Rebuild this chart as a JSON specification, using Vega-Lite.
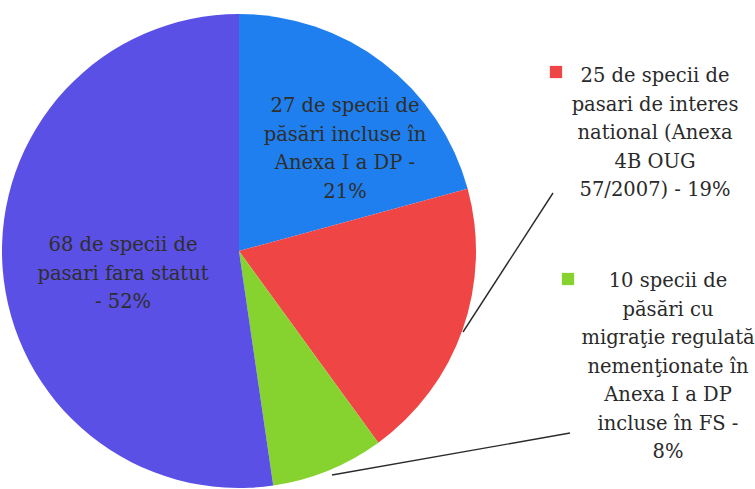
{
  "$schema": "https://vega.github.io/schema/vega-lite/v6.json",
  "width": 755,
  "height": 489,
  "padding": 0,
  "autosize": {"type": "none"},
  "background": "#ffffff",
  "config": {"view": {"stroke": null}},
  "datasets": {
    "slices": [
      {"category": "incluse_DP", "count": 27, "pct": 21, "order": 1, "label": "27 de specii de|păsări incluse în|Anexa I a DP -|21%"},
      {"category": "interes_national", "count": 25, "pct": 19, "order": 2, "label": "25 de specii de|pasari de interes|national (Anexa|4B OUG|57/2007) - 19%"},
      {"category": "migratie", "count": 10, "pct": 8, "order": 3, "label": "10 specii de|păsări cu|migraţie regulată|nemenţionate în|Anexa I a DP|incluse în FS -|8%"},
      {"category": "fara_statut", "count": 68, "pct": 52, "order": 4, "label": "68 de specii de|pasari fara statut|- 52%"}
    ],
    "labels": [
      {"category": "incluse_DP", "kind": "inside", "tx": 345, "ty": 106},
      {"category": "interes_national", "kind": "outside", "tx": 655, "ty": 76},
      {"category": "migratie", "kind": "outside", "tx": 668, "ty": 281},
      {"category": "fara_statut", "kind": "inside", "tx": 123, "ty": 245}
    ],
    "callouts": [
      {"category": "interes_national", "sx": 556, "sy": 72, "lx": 463, "ly": 332, "lx2": 553, "ly2": 193},
      {"category": "migratie", "sx": 568, "sy": 279, "lx": 332, "ly": 475, "lx2": 570, "ly2": 433}
    ]
  },
  "layer": [
    {
      "data": {"name": "slices"},
      "mark": {"type": "arc", "outerRadius": 237, "stroke": null},
      "encoding": {
        "theta": {"field": "count", "type": "quantitative", "stack": true},
        "order": {"field": "order", "type": "quantitative"},
        "color": {
          "field": "category", "type": "nominal", "legend": null,
          "scale": {"domain": ["incluse_DP", "interes_national", "migratie", "fara_statut"], "range": ["#1f7fef", "#ef4545", "#86d22e", "#5b50e6"]}
        },
        "x": {"datum": 239, "type": "quantitative", "scale": {"domain": [0, 755], "nice": false, "zero": false}, "axis": null},
        "y": {"datum": 251, "type": "quantitative", "scale": {"domain": [0, 489], "nice": false, "zero": false, "reverse": true}, "axis": null}
      }
    },
    {
      "data": {"name": "callouts"},
      "mark": {"type": "rule", "color": "#2b2b2b", "strokeWidth": 1.4},
      "encoding": {
        "x": {"field": "lx", "type": "quantitative"},
        "y": {"field": "ly", "type": "quantitative"},
        "x2": {"field": "lx2"},
        "y2": {"field": "ly2"}
      }
    },
    {
      "data": {"name": "callouts"},
      "mark": {"type": "point", "shape": "square", "filled": true, "opacity": 1, "size": 150},
      "encoding": {
        "x": {"field": "sx", "type": "quantitative"},
        "y": {"field": "sy", "type": "quantitative"},
        "color": {"field": "category", "type": "nominal", "legend": null}
      }
    },
    {
      "data": {"name": "labels"},
      "transform": [
        {"filter": "datum.kind === 'inside'"},
        {"lookup": "category", "from": {"data": {"name": "slices"}, "key": "category", "fields": ["label"]}}
      ],
      "mark": {"type": "text", "font": "DejaVu Serif", "fontSize": 19.5, "lineBreak": "|", "lineHeight": 28.5, "align": "center", "baseline": "middle", "color": "#2e2e2a"},
      "encoding": {
        "x": {"field": "tx", "type": "quantitative"},
        "y": {"field": "ty", "type": "quantitative"},
        "text": {"field": "label"}
      }
    },
    {
      "data": {"name": "labels"},
      "transform": [
        {"filter": "datum.kind === 'outside'"},
        {"lookup": "category", "from": {"data": {"name": "slices"}, "key": "category", "fields": ["label"]}}
      ],
      "mark": {"type": "text", "font": "DejaVu Serif", "fontSize": 19.5, "lineBreak": "|", "lineHeight": 28.5, "align": "center", "baseline": "middle", "color": "#2a2a2a"},
      "encoding": {
        "x": {"field": "tx", "type": "quantitative"},
        "y": {"field": "ty", "type": "quantitative"},
        "text": {"field": "label"}
      }
    }
  ]
}
